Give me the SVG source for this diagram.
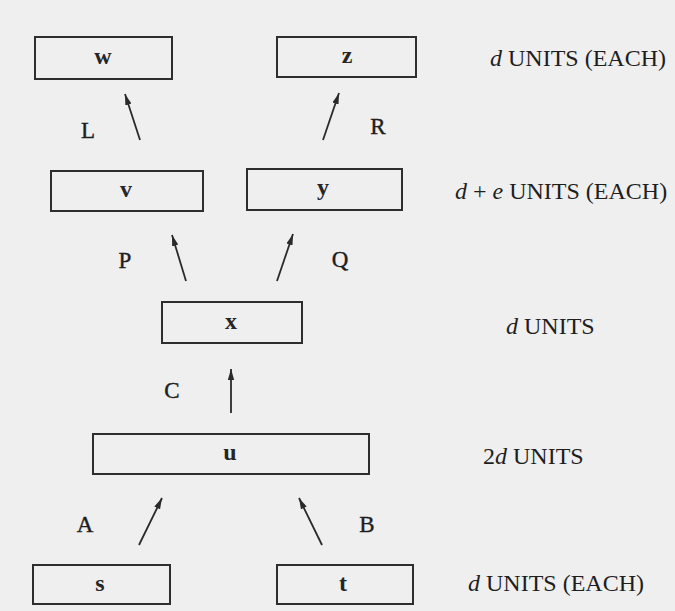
<svg xmlns="http://www.w3.org/2000/svg" width="675" height="611" viewBox="0 0 675 611">
  <defs>
    <marker id="head" markerUnits="userSpaceOnUse" markerWidth="12" markerHeight="10" viewBox="0 0 12 10" refX="11" refY="5" orient="auto">
      <path d="M0,1.8 L11,5 L0,8.2 Z" fill="#2a2a2a"/>
    </marker>
  </defs>
  <style>
    .box { fill: none; stroke: #2e2e2e; stroke-width: 2; }
    .lbl { font-family: "Liberation Serif", "Times New Roman", serif; font-size: 24px; font-weight: bold; fill: #262626; text-anchor: middle; }
    .edge { stroke: #2a2a2a; stroke-width: 1.8; fill: none; marker-end: url(#head); }
    .elbl { font-family: "Liberation Serif", "Times New Roman", serif; font-size: 23px; fill: #1e1e1e; text-anchor: middle; stroke: #1e1e1e; stroke-width: 0.4; }
    .note { font-family: "Liberation Serif", "Times New Roman", serif; font-size: 24px; fill: #1e1e1e; }
    .it { font-style: italic; }
  </style>

  <rect x="0" y="0" width="675" height="611" fill="#efefef"/>

  <!-- layer units -->
  <g id="node-w"><rect class="box" x="35" y="37" width="137" height="42"/><text class="lbl" x="103" y="64">w</text></g>
  <g id="node-z"><rect class="box" x="277" y="37" width="139" height="40"/><text class="lbl" x="347" y="63">z</text></g>
  <g id="node-v"><rect class="box" x="51" y="171" width="152" height="40"/><text class="lbl" x="126" y="197">v</text></g>
  <g id="node-y"><rect class="box" x="247" y="169" width="155" height="41"/><text class="lbl" x="323" y="195">y</text></g>
  <g id="node-x"><rect class="box" x="162" y="302" width="140" height="41"/><text class="lbl" x="231" y="329">x</text></g>
  <g id="node-u"><rect class="box" x="93" y="434" width="276" height="40"/><text class="lbl" x="230" y="460">u</text></g>
  <g id="node-s"><rect class="box" x="33" y="565" width="137" height="39"/><text class="lbl" x="100" y="591">s</text></g>
  <g id="node-t"><rect class="box" x="277" y="565" width="136" height="39"/><text class="lbl" x="343" y="591">t</text></g>

  <!-- connections -->
  <g id="connectors">
    <line class="edge" x1="140" y1="140" x2="125" y2="94"/>
    <line class="edge" x1="323" y1="140" x2="339" y2="93"/>
    <line class="edge" x1="186" y1="281" x2="172" y2="235"/>
    <line class="edge" x1="277" y1="281" x2="293" y2="234"/>
    <line class="edge" x1="231" y1="413" x2="231" y2="369"/>
    <line class="edge" x1="139" y1="545" x2="162" y2="498"/>
    <line class="edge" x1="322" y1="545" x2="299" y2="498"/>
    <text class="elbl" x="88" y="138">L</text>
    <text class="elbl" x="378" y="134">R</text>
    <text class="elbl" x="125" y="268">P</text>
    <text class="elbl" x="340" y="267">Q</text>
    <text class="elbl" x="172" y="398">C</text>
    <text class="elbl" x="85" y="532">A</text>
    <text class="elbl" x="367" y="532">B</text>
  </g>

  <!-- layer sizes -->
  <g id="sizes">
    <text class="note" x="490" y="66"><tspan class="it">d</tspan> UNITS (EACH)</text>
    <text class="note" x="455" y="199"><tspan class="it">d</tspan> + <tspan class="it">e</tspan> UNITS (EACH)</text>
    <text class="note" x="506" y="334"><tspan class="it">d</tspan> UNITS</text>
    <text class="note" x="483" y="464">2<tspan class="it">d</tspan> UNITS</text>
    <text class="note" x="468" y="591"><tspan class="it">d</tspan> UNITS (EACH)</text>
  </g>
</svg>
